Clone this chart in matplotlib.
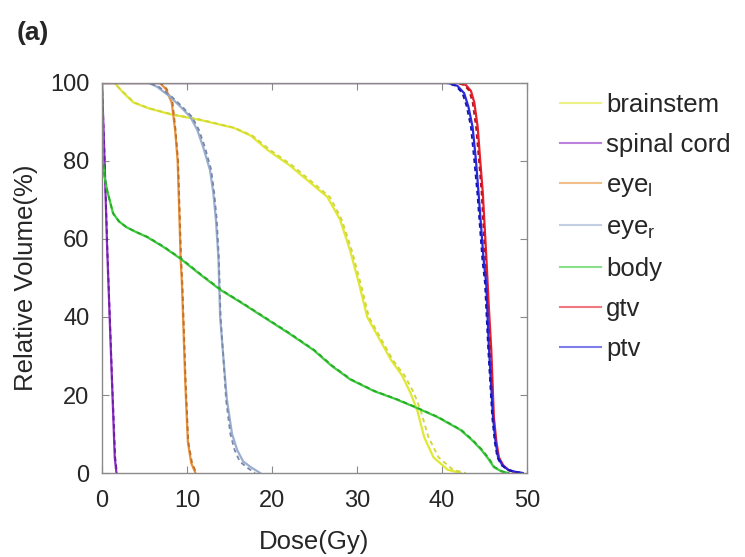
import matplotlib
matplotlib.use("Agg")
import matplotlib.pyplot as plt
from matplotlib.lines import Line2D

plt.rcParams['font.family'] = ['Liberation Sans', 'DejaVu Sans']
plt.rcParams['mathtext.fontset'] = 'custom'
plt.rcParams['mathtext.rm'] = 'Liberation Sans'
plt.rcParams['mathtext.it'] = 'Liberation Sans'

# Dose-volume histograms: dose in Gy, relative volume in %
# Solid = clinical plan, dashed = predicted
brainstem_dose = [0, 1.5, 2.5, 3.7, 5.5, 8, 11.6, 15.5, 17.5, 19.5, 22, 24.2, 26.5, 28, 29.2, 30.3,
                  31.2, 32.6, 34, 35.3, 36.3, 37.1, 37.9, 39, 40.7, 42.2]
brainstem_vol = [100, 100, 97.5, 95, 93.5, 92, 90.5, 88.5, 86.5, 82.8, 79, 75, 70.8, 65, 57, 48,
                 40, 34.5, 29, 25, 20.5, 16, 9.2, 4, 0.8, 0]
brainstem_pred_dose = [0, 1.4, 2.6, 3.8, 5.6, 8.2, 11.8, 15.6, 17.7, 19.8, 22.3, 24.5, 26.8, 28.2, 29.4, 30.5,
                       31.4, 32.8, 34.2, 35.6, 36.7, 37.5, 38.4, 39.6, 41.3, 42.8]

spinal_dose = [0, 0.3, 0.6, 0.9, 1.2, 1.5, 1.7]
spinal_vol = [100, 80, 58, 40, 22, 4, 0]
spinal_pred_dose = [0, 0.32, 0.62, 0.92, 1.22, 1.55, 1.75]

eye_l_dose = [0, 6.8, 7.5, 8.2, 8.6, 8.9, 9.1, 9.25, 9.4, 9.6, 9.8, 10.1, 10.5, 11.0]
eye_l_vol = [100, 100, 98.5, 95, 88, 80, 66, 55, 48.7, 36, 23, 8, 2.5, 0]
eye_l_pred_dose = [0, 6.9, 7.6, 8.3, 8.65, 8.95, 9.15, 9.3, 9.45, 9.65, 9.85, 10.15, 10.6, 11.1]

eye_r_dose = [0, 5.5, 6.5, 8, 9.2, 10.4, 11.2, 11.9, 12.7, 13.1, 13.4, 13.7, 13.9, 14.3, 14.7, 15.3,
              15.9, 16.6, 17.5, 18.6]
eye_r_vol = [100, 100, 99, 96.5, 94, 91.3, 88, 83.6, 77.7, 71.8, 65, 55, 40, 29, 18.7, 10,
             5.9, 3, 1.5, 0]
eye_r_pred_dose = [0, 5.6, 6.7, 8.2, 9.4, 10.6, 11.4, 12.1, 12.85, 13.2, 13.5, 13.75, 13.95, 14.3, 14.6, 15.1,
                   15.6, 16.2, 17.0, 18.0]

body_dose = [0, 0.1, 0.3, 0.6, 1.3, 2.0, 2.9, 4, 5.3, 7.2, 9.2, 11.5, 13.9, 16.5, 19, 22,
             24.9, 27, 29.2, 32, 34.5, 36.7, 39.5, 42.2, 43.5, 44.6, 45.4, 46.1, 47, 47.8]
body_vol = [100, 80, 76, 72.5, 66.6, 64.5, 63, 61.8, 60.5, 58, 55, 51, 47, 43.5, 40, 35.8,
            31.5, 27.5, 24, 21, 19, 17, 14.3, 11, 8.5, 6, 3.8, 1.5, 0.4, 0]
body_pred_dose = [0, 0.1, 0.3, 0.6, 1.3, 2.0, 2.9, 4, 5.4, 7.3, 9.3, 11.6, 14.0, 16.6, 19.1, 22.1,
                  25.0, 27.1, 29.3, 32.1, 34.6, 36.8, 39.6, 42.3, 43.6, 44.7, 45.5, 46.2, 47.1, 47.9]

gtv_dose = [0, 41.9, 42.8, 43.4, 43.8, 44.2, 44.5, 44.8, 45.2, 45.5, 45.8, 46.1, 46.4, 46.7, 47.2,
            47.8, 48.5, 49.3]
gtv_vol = [100, 100, 99.5, 98, 95, 88.7, 80, 71.8, 56, 43, 31.5, 14.4, 8, 4, 2, 0.8, 0.3, 0]
gtv_pred_dose = [0, 41.7, 42.6, 43.2, 43.6, 44.0, 44.35, 44.65, 45.05, 45.35, 45.7, 46.0, 46.3, 46.6, 47.1,
                 47.7, 48.4, 49.2]

ptv_dose = [0, 40.7, 41.8, 42.6, 43.1, 43.6, 44.0, 44.3, 44.9, 45.2, 45.5, 46.0, 46.3, 46.6, 47.1,
            47.8, 48.6, 49.5]
ptv_vol = [100, 100, 99.3, 97.4, 94, 88.7, 80, 71.8, 54.6, 48.7, 33, 14.4, 8, 4, 2, 0.8, 0.3, 0]
ptv_pred_dose = [0, 40.5, 41.6, 42.4, 42.9, 43.4, 43.8, 44.15, 44.75, 45.05, 45.4, 45.9, 46.2, 46.5, 47.0,
                 47.7, 48.5, 49.4]

structures = ['brainstem', 'spinal cord', 'eye$_{\\mathregular{l}}$', 'eye$_{\\mathregular{r}}$',
              'body', 'gtv', 'ptv']
plan_curves = [(brainstem_dose, brainstem_vol), (spinal_dose, spinal_vol), (eye_l_dose, eye_l_vol),
               (eye_r_dose, eye_r_vol), (body_dose, body_vol), (gtv_dose, gtv_vol), (ptv_dose, ptv_vol)]
pred_curves = [(brainstem_pred_dose, brainstem_vol), (spinal_pred_dose, spinal_vol),
               (eye_l_pred_dose, eye_l_vol), (eye_r_pred_dose, eye_r_vol), (body_pred_dose, body_vol),
               (gtv_pred_dose, gtv_vol), (ptv_pred_dose, ptv_vol)]
solid_colors = ['#e0e836', '#8e2cc6', '#e8913a', '#9aaed0', '#3ccc3c', '#e8202a', '#2a2ae0']
dash_colors = ['#d0d63a', '#6a1fa0', '#c0702a', '#7a88a8', '#2aa82a', '#b81020', '#1414b0']

x_ticks = [0, 10, 20, 30, 40, 50]
y_ticks = [0, 20, 40, 60, 80, 100]

fig = plt.figure(figsize=(7.45, 5.57), dpi=100)
ax = fig.add_axes([102 / 745, 1 - 473 / 557, (527 - 102) / 745, (473 - 83) / 557])

for (d, v), (pd_, pv), cs, cd in zip(plan_curves, pred_curves, solid_colors, dash_colors):
    ax.plot(d, v, color=cs, lw=1.6, solid_joinstyle='round')
    ax.plot(pd_, pv, color=cd, lw=1.3, ls=(0, (2.5, 2.0)))

ax.set_xlim(0, 50)
ax.set_ylim(0, 100)
ax.set_xticks(x_ticks)
ax.set_yticks(y_ticks)
for s in ax.spines.values():
    s.set_color('#8a8a8a')
    s.set_linewidth(1.0)
ax.tick_params(direction='in', length=5, width=0.8, top=True, right=True, colors='#8a8a8a',
               labelcolor='#262626', labelsize=17)
ax.tick_params(axis='x', pad=12)
ax.tick_params(axis='y', pad=9)

ax.set_xlabel('Dose(Gy)', fontsize=18.5, color='#262626', labelpad=13)
ax.set_ylabel('Relative Volume(%)', fontsize=18.5, color='#262626', labelpad=9)

handles = [Line2D([], [], color=c, lw=1.5, alpha=0.6) for c in solid_colors]
ax.legend(handles, structures, loc='upper left', bbox_to_anchor=(560 / 745, 1 - 93 / 557),
          bbox_transform=fig.transFigure, frameon=False, fontsize=18.5, handlelength=1.6,
          handletextpad=0.2, labelspacing=0.62, borderaxespad=0, borderpad=0,
          labelcolor='#262626')

fig.text(17 / 745, 1 - 40 / 557, '(a)', fontsize=19, fontweight='bold', color='#262626',
         va='baseline', ha='left')

fig.savefig('out.png', dpi=100, facecolor='white')
